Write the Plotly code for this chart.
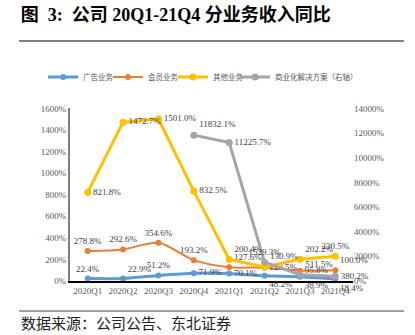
import plotly.graph_objects as go

categories = ["2020Q1", "2020Q2", "2020Q3", "2020Q4", "2021Q1", "2021Q2", "2021Q3", "2021Q4"]
ad = [22.4, 22.9, 51.2, 71.9, 70.1, 48.2, 38.9, 18.4]
member = [278.8, 292.6, 354.6, 193.2, 127.6, 123.5, 95.8, 100.0]
other = [821.8, 1472.7, 1501.0, 832.5, 200.4, 130.9, 202.2, 230.5]
biz_cats = categories[3:]
biz = [11832.1, 11225.7, 1529.3, 511.5, 380.2]
left_ticks = list(range(0, 1601, 200))
right_ticks = list(range(0, 14001, 2000))

names = ["广告业务", "会员业务", "其他业务", "商业化解决方案（右轴）"]
colors = ["#5B9BD5", "#ED7D31", "#FFC000", "#A5A5A5"]

pos_ad = ["top center", "top right", "top center", "middle right", "middle right", "bottom right", "bottom right", "bottom right"]
pos_member = ["top center", "top center", "top center", "top center", "top right", "middle right", "middle right", "top right"]
pos_other = ["middle right", "middle right", "middle right", "middle right", "top right", "top right", "top right", "top center"]
pos_biz = ["top right", "middle right", "top center", "top right", "middle right"]

lab_font = dict(family="Liberation Serif", size=9, color="#404040")

def fmt(v):
    return [f"{x:.1f}%" for x in v]

fig = go.Figure()
fig.add_trace(go.Scatter(x=categories, y=ad, name=names[0], mode="lines+markers+text", legend="legend",
                         line=dict(color=colors[0], width=3, shape="spline", smoothing=0.5),
                         marker=dict(size=6, color=colors[0]), cliponaxis=False,
                         text=fmt(ad), textposition=pos_ad, textfont=lab_font))
fig.add_trace(go.Scatter(x=categories, y=member, name=names[1], mode="lines+markers+text", legend="legend2",
                         line=dict(color=colors[1], width=2, shape="spline", smoothing=0.8),
                         marker=dict(size=6, color=colors[1]), cliponaxis=False,
                         text=fmt(member), textposition=pos_member, textfont=lab_font))
fig.add_trace(go.Scatter(x=categories, y=other, name=names[2], mode="lines+markers+text", legend="legend3",
                         line=dict(color=colors[2], width=3),
                         marker=dict(size=7, color=colors[2]), cliponaxis=False,
                         text=fmt(other), textposition=pos_other, textfont=lab_font))
fig.add_trace(go.Scatter(x=biz_cats, y=biz, name=names[3], mode="lines+markers+text", yaxis="y2", legend="legend4",
                         line=dict(color=colors[3], width=3),
                         marker=dict(size=7, color=colors[3]), cliponaxis=False,
                         text=fmt(biz), textposition=pos_biz, textfont=lab_font))

tick_font = dict(family="Liberation Serif", size=9, color="#595959")
leg_font = dict(family="Noto Sans CJK SC", size=7.5, color="#595959")

def leg(x):
    return dict(orientation="h", x=x, xanchor="left", y=0.77, yanchor="middle", yref="container",
                font=leg_font, itemwidth=30, bgcolor="rgba(0,0,0,0)")

fig.update_layout(
    width=415, height=335,
    margin=dict(l=70, r=62, t=103, b=54),
    paper_bgcolor="white", plot_bgcolor="white",
    showlegend=True,
    legend=leg(-0.095), legend2=leg(0.134), legend3=leg(0.364), legend4=leg(0.583),
    xaxis=dict(type="category", categoryorder="array", categoryarray=categories,
               showline=True, linecolor="black", linewidth=1.5, showgrid=False,
               ticks="", tickfont=tick_font, range=[-0.5, 7.5]),
    yaxis=dict(range=[0, 1600], tickvals=left_ticks, ticktext=[f"{t}%" for t in left_ticks],
               showgrid=False, showline=True, linecolor="#7F7F7F", linewidth=2,
               ticks="", tickfont=tick_font, zeroline=False),
    yaxis2=dict(range=[0, 14000], tickvals=right_ticks, ticktext=[f"{t}%" for t in right_ticks],
                overlaying="y", side="right", showgrid=False, showline=False,
                ticks="", tickfont=tick_font, zeroline=False),
    title=dict(text="<b>图  3:  公司 20Q1-21Q4 分业务收入同比</b>", x=0.05, xanchor="left",
               y=0.955, yanchor="middle",
               font=dict(family="Liberation Serif, Noto Sans CJK SC", size=18, color="black")),
    annotations=[dict(text="数据来源：公司公告、东北证券", xref="paper", yref="paper",
                      x=-0.18, xanchor="left", y=-0.242, yanchor="middle", showarrow=False,
                      font=dict(family="Noto Sans CJK SC", size=15, color="#222222"))],
    shapes=[
        dict(type="line", xref="paper", yref="paper", x0=-0.18, x1=1.18, y0=1.39, y1=1.39,
             line=dict(color="#808080", width=2)),
        dict(type="line", xref="paper", yref="paper", x0=-0.18, x1=1.18, y0=-0.174, y1=-0.174,
             line=dict(color="#404040", width=1)),
    ],
)

fig.write_html("out.html")
